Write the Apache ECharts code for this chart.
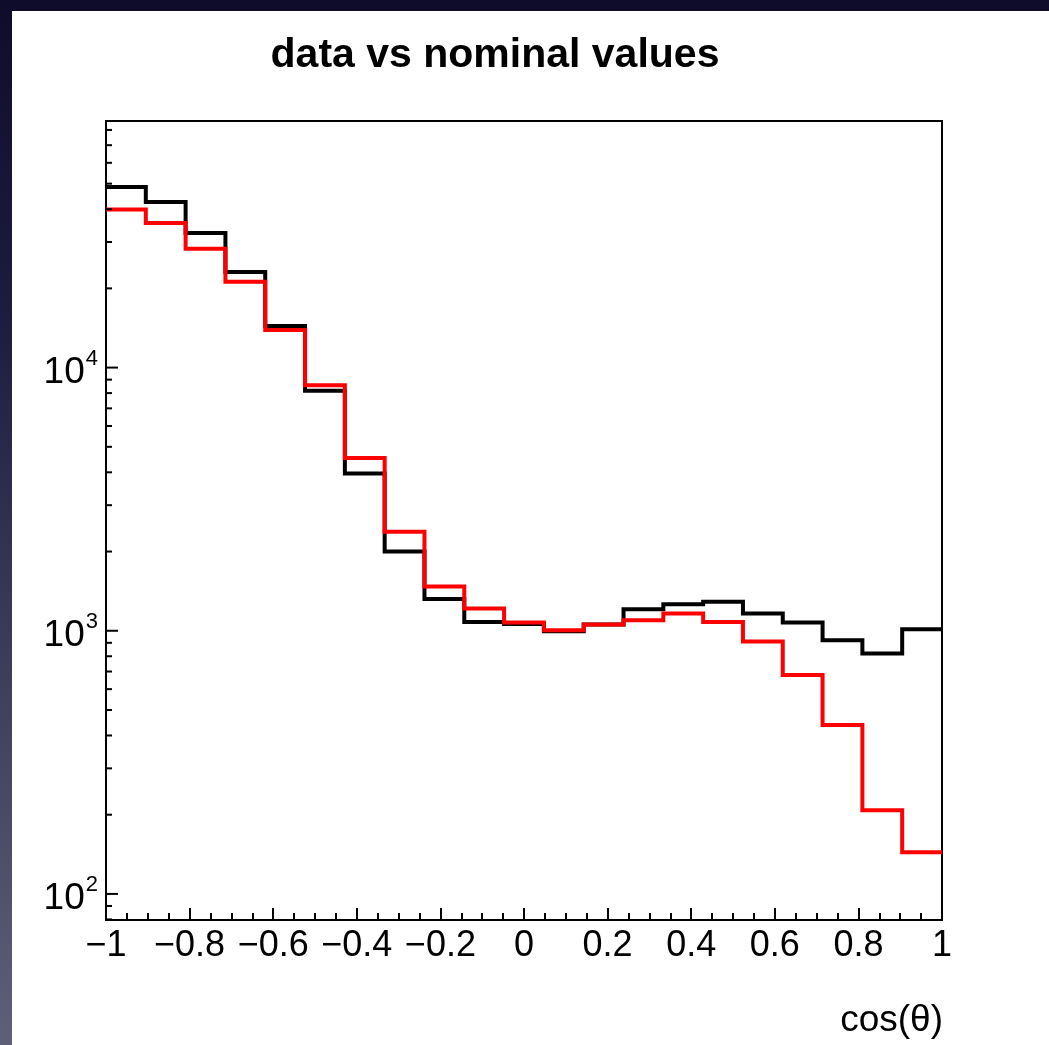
<!DOCTYPE html>
<html>
<head>
<meta charset="utf-8">
<script src="https://cdn.jsdelivr.net/npm/echarts@6/dist/echarts.min.js"></script>
<style>
  html, body { margin: 0; padding: 0; }
  body {
    width: 1049px; height: 1045px; overflow: hidden; position: relative;
    background: linear-gradient(to bottom, #0f0c2b 0%, #1e1c3e 30%, #3a3a58 60%, #5f5f78 100%);
  }
  #chart {
    position: absolute; left: 12px; top: 11px; width: 1037px; height: 1034px;
    background: #ffffff;
  }
</style>
</head>
<body>
<div id="chart"></div>
<script>
// Histogram range on cos(theta)
const xMin = -1;
const xMax = 1;

// Bin contents, 21 equal-width bins from -1 to 1
const dataCounts = [48600, 42600, 32500, 23100, 14400, 8160, 3960, 2000, 1320, 1080, 1060,
                    996, 1056, 1207, 1261, 1289, 1163, 1074, 920, 819, 1013];
const nominalCounts = [39900, 35400, 28300, 21200, 13900, 8560, 4530, 2380, 1474, 1214, 1075,
                       1004, 1056, 1096, 1163, 1079, 911, 679, 438, 208, 144];

// Log-axis tick marks (major at decades, minor at 2..9 x decade)
const yMajorTicks = [100, 1000, 10000];
const yMinorTicks = [80, 90, 200, 300, 400, 500, 600, 700, 800, 900,
                     2000, 3000, 4000, 5000, 6000, 7000, 8000, 9000,
                     20000, 30000, 40000, 50000, 60000, 70000, 80000];
const yMin = 79.6;
const yMax = 86500;

// Turn bin contents into step-line points at the bin low edges plus the upper range end
function histPoints(counts) {
  const w = (xMax - xMin) / counts.length;
  const pts = counts.map((c, i) => [xMin + i * w, c]);
  pts.push([xMax, counts[counts.length - 1]]);
  return pts;
}

const chart = echarts.init(document.getElementById('chart'), null, { renderer: 'canvas' });

const tickData = yMajorTicks.map(v => [xMin, v, 1]).concat(yMinorTicks.map(v => [xMin, v, 0]));

const option = {
  animation: false,
  backgroundColor: '#ffffff',
  title: {
    text: 'data vs nominal values',
    left: 478,
    top: 19,
    textAlign: 'center',
    textStyle: { fontFamily: 'Liberation Sans', fontWeight: 'bold', fontSize: 41, color: '#000' }
  },
  grid: {
    left: 94, top: 110, width: 836, height: 799,
    show: true, borderColor: '#000', borderWidth: 2, backgroundColor: 'transparent'
  },
  xAxis: {
    type: 'value',
    min: xMin, max: xMax, interval: 0.2,
    axisLine: { show: false },
    splitLine: { show: false },
    axisTick: { show: true, inside: true, length: 12, lineStyle: { color: '#000', width: 2 } },
    minorTick: { show: true, splitNumber: 4, length: 7, lineStyle: { color: '#000', width: 2 } },
    axisLabel: {
      margin: 8,
      fontFamily: 'Liberation Sans', fontSize: 36, color: '#000',
      formatter: v => {
        const r = Math.round(v * 10) / 10;
        return (r < 0 ? '\u2212' : '') + String(Math.abs(r));
      }
    }
  },
  yAxis: {
    type: 'log', logBase: 10,
    min: yMin, max: yMax,
    axisLine: { show: false },
    splitLine: { show: false },
    axisTick: { show: false },
    axisLabel: {
      margin: 8,
      color: '#000',
      formatter: v => {
        const e = Math.log10(v);
        const n = Math.round(e);
        if (Math.abs(e - n) > 1e-6) return '';
        return '{b|10}{s|' + n + '}';
      },
      rich: {
        b: { fontFamily: 'Liberation Sans', fontSize: 37, color: '#000', lineHeight: 40, padding: [10, 0, 0, 0] },
        s: { fontFamily: 'Liberation Sans', fontSize: 22, color: '#000', verticalAlign: 'top', lineHeight: 40, padding: [0, 0, 14, 1] }
      }
    }
  },
  graphic: [{
    type: 'text',
    right: 1037 - 931,
    top: 991,
    style: { text: 'cos(\u03b8)', font: '37px "Liberation Sans"', fill: '#000', textAlign: 'right' }
  }],
  series: [
    {
      name: 'data',
      type: 'line',
      step: 'end',
      data: histPoints(dataCounts),
      showSymbol: false,
      lineStyle: { color: '#000000', width: 4, join: 'miter' },
      z: 3
    },
    {
      name: 'nominal',
      type: 'line',
      step: 'end',
      data: histPoints(nominalCounts),
      showSymbol: false,
      lineStyle: { color: '#ff0000', width: 4, join: 'miter' },
      z: 4
    },
    {
      name: 'yticks',
      type: 'custom',
      silent: true,
      data: tickData,
      clip: true,
      renderItem: (params, api) => {
        const p = api.coord([api.value(0), api.value(1)]);
        const len = api.value(2) ? 12 : 6;
        return {
          type: 'line',
          shape: { x1: p[0], y1: p[1], x2: p[0] + len, y2: p[1] },
          style: { stroke: '#000', lineWidth: 2 }
        };
      },
      z: 5
    }
  ]
};

chart.setOption(option);
</script>
</body>
</html>
